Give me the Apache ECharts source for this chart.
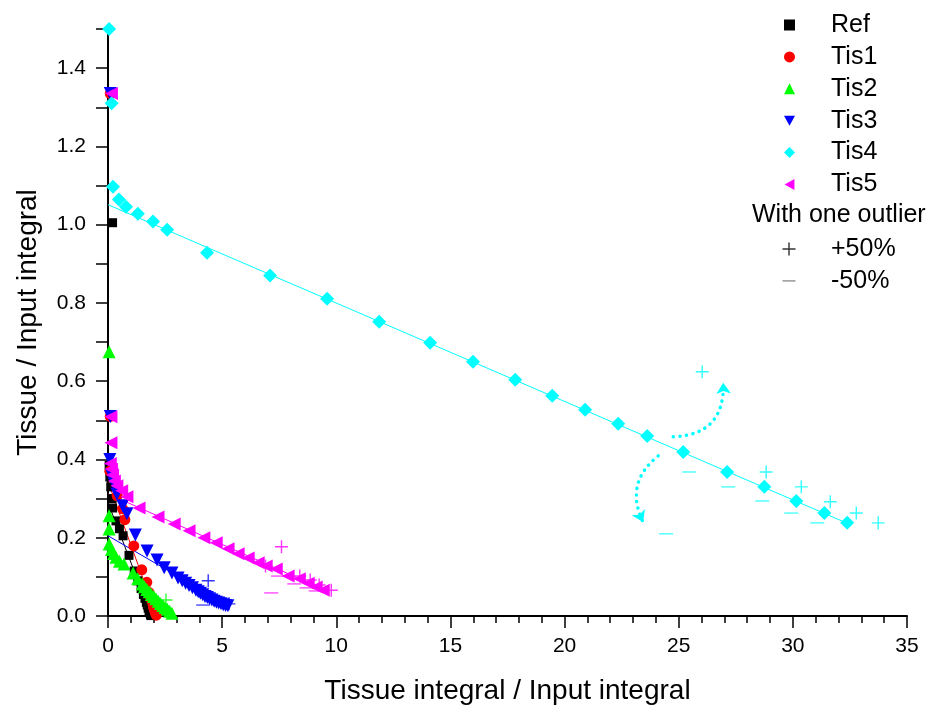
<!DOCTYPE html>
<html><head><meta charset="utf-8">
<script src="https://cdn.jsdelivr.net/npm/echarts/dist/echarts.min.js"></script>
<style>html,body{margin:0;padding:0;background:#fff}#c{width:940px;height:713px}</style>
</head><body><div id="c"></div>
<script>
// ---------------- DATA ----------------
const seriesNames = ['Ref','Tis1','Tis2','Tis3','Tis4','Tis5'];
const xTicks = [0,5,10,15,20,25,30,35];
const yTicks = [0.0,0.2,0.4,0.6,0.8,1.0,1.2,1.4];

const refPts = [[0.2,1.005],[0.05,0.385],[0.08,0.355],[0.12,0.33],[0.18,0.30],[0.2,0.276],[0.35,0.243],[0.5,0.223],[0.66,0.205],[0.92,0.155],[1.15,0.115],[1.3,0.09],[1.45,0.07],[1.55,0.055],[1.62,0.045],[1.68,0.035],[1.72,0.028],[1.76,0.02],[1.8,0.014],[1.83,0.008],[1.86,0.004],[1.88,0.001]];
const tis1Pts = [[0.1,1.335],[0.1,0.51],[0.08,0.37],[0.4,0.307],[0.64,0.274],[0.74,0.246],[1.13,0.179],[1.48,0.118],[1.7,0.086],[1.8,0.06],[1.85,0.05],[1.9,0.042],[1.95,0.035],[1.98,0.028],[2.0,0.022],[2.03,0.017],[2.05,0.012],[2.08,0.008],[2.1,0.005],[2.12,0.002]];
const tis2Pts = [[0.05,0.675],[0.05,0.256],[0.05,0.222],[0.05,0.184],[0.15,0.17],[0.25,0.16],[0.35,0.15],[0.5,0.14],[0.7,0.133],[1.1,0.11],[1.3,0.095],[1.5,0.082],[1.6,0.075],[1.7,0.068],[1.8,0.062],[1.9,0.055],[2.0,0.05],[2.1,0.044],[2.2,0.038],[2.3,0.032],[2.4,0.027],[2.5,0.022],[2.6,0.017],[2.7,0.012],[2.8,0.007]];
const tis3Pts = [[0.1,1.335],[0.1,0.51],[0.08,0.40],[0.15,0.36],[0.25,0.34],[0.39,0.312],[0.64,0.282],[0.83,0.261],[1.2,0.207],[1.71,0.166],[2.15,0.143],[2.46,0.123],[2.8,0.11],[3.07,0.097],[3.25,0.09],[3.4,0.084],[3.55,0.078],[3.7,0.072],[3.85,0.066],[3.95,0.062],[4.05,0.058],[4.15,0.054],[4.25,0.05],[4.35,0.047],[4.45,0.044],[4.55,0.041],[4.65,0.038],[4.75,0.035],[4.85,0.033],[4.95,0.031],[5.05,0.029],[5.15,0.027],[5.25,0.026]];
const tis4Pts = [[0.05,1.5],[0.16,1.31],[0.22,1.097],[0.48,1.064],[0.79,1.046],[1.31,1.028],[1.97,1.008],[2.59,0.987],[4.34,0.928],[7.10,0.870],[9.6,0.811],[11.88,0.752],[14.11,0.698],[15.99,0.650],[17.84,0.604],[19.46,0.563],[20.9,0.527],[22.35,0.491],[23.62,0.460],[25.2,0.419],[27.12,0.368],[28.75,0.330],[30.15,0.294],[31.38,0.263],[32.38,0.238]];
const tis5Pts = [[0.15,1.335],[0.13,0.509],[0.13,0.443],[0.1,0.39],[0.15,0.375],[0.2,0.36],[0.28,0.345],[0.39,0.333],[0.6,0.32],[0.83,0.305],[1.36,0.276],[2.19,0.253],[2.9,0.235],[3.55,0.218],[4.2,0.2],[4.74,0.187],[5.26,0.172],[5.7,0.159],[6.14,0.148],[6.58,0.136],[6.93,0.128],[7.37,0.12],[7.89,0.102],[8.38,0.095],[8.77,0.084],[9.12,0.074],[9.43,0.066]];

// linear fits: [start, end]
const refFit  = [[0,0.29],[1.9,0]];
const tis1Fit = [[0,0.343],[2.13,0]];
const tis2Fit = [[0,0.18],[2.85,0]];
const tis3Fit = [[0,0.205],[5.3,0.026]];
const tis4Fit = [[0,1.051],[32.5,0.234]];
const tis5Fit = [[0,0.312],[9.6,0.064]];

// "With one outlier" points
const tis2Plus  = [[2.54,0.041]];
const tis3Plus  = [[4.39,0.09],[5.3,0.031]];
const tis4Plus  = [[26.03,0.624],[28.83,0.368],[30.37,0.330],[31.64,0.292],[32.78,0.263],[33.74,0.238]];
const tis5Plus  = [[6.9,0.128],[7.6,0.177],[8.4,0.102],[8.86,0.092],[9.25,0.079],[9.78,0.066]];
const tis3Minus = [[4.17,0.028]];
const tis4Minus = [[24.45,0.210],[25.46,0.368],[27.17,0.330],[28.66,0.294],[29.93,0.263],[31.07,0.238]];
const tis5Minus = [[7.15,0.059],[7.45,0.102],[8.16,0.082],[8.7,0.072],[9.1,0.064]];

// annotation arrows (data coords)
const arrowUp   = [[24.76,0.458],[26.95,0.596]];
const arrowDown = [[24.1,0.409],[23.44,0.240]];

// ---------------- STYLE ----------------
const FONT = "'Liberation Sans', Arial, sans-serif";
const COLORS = {Ref:'#000000',Tis1:'#ff0000',Tis2:'#00ff00',Tis3:'#0000ff',Tis4:'#00ffff',Tis5:'#ff00ff'};
const SYMBOLS = {
  Ref:'rect', Tis1:'circle', Tis2:'triangle',
  Tis3:'path://M0,0L10,0L5,9Z', Tis4:'diamond', Tis5:'path://M9,0L9,10L0,5Z'
};
const SIZES = {Ref:9, Tis1:11, Tis2:13, Tis3:13, Tis4:14, Tis5:13};
const PLUS = 'path://M4.45,0H5.55V4.45H10V5.55H5.55V10H4.45V5.55H0V4.45H4.45Z';
const MINUS = 'path://M0,0H10V1.1H0Z';

const pts = {Ref:refPts, Tis1:tis1Pts, Tis2:tis2Pts, Tis3:tis3Pts, Tis4:tis4Pts, Tis5:tis5Pts};
const fits = {Ref:refFit, Tis1:tis1Fit, Tis2:tis2Fit, Tis3:tis3Fit, Tis4:tis4Fit, Tis5:tis5Fit};
const plusSets = {Tis2:tis2Plus, Tis3:tis3Plus, Tis4:tis4Plus, Tis5:tis5Plus};
const minusSets = {Tis3:tis3Minus, Tis4:tis4Minus, Tis5:tis5Minus};

const series = [];
seriesNames.forEach(n => {
  series.push({
    name: n + ' fit', type: 'line', data: fits[n], symbol: 'none', silent: true, z: 1,
    lineStyle: {color: COLORS[n], width: 1}
  });
});
series.push({
  name: 'arrows', type: 'lines', coordinateSystem: 'cartesian2d', silent: true, z: 2,
  symbol: ['none', 'arrow'], symbolSize: 11,
  lineStyle: {color: COLORS.Tis4, width: 3.5, type: [0.1, 6.5], cap: 'round', opacity: 1},
  data: [
    {coords: arrowUp, lineStyle: {curveness: -0.5}},
    {coords: arrowDown, lineStyle: {curveness: -0.4}}
  ]
});

seriesNames.forEach(n => {
  series.push({
    name: n, type: 'scatter', data: pts[n], symbol: SYMBOLS[n], symbolSize: SIZES[n], z: 3,
    itemStyle: {color: COLORS[n], opacity: 1}, clip: false
  });
});
const plusData = [], minusData = [];
Object.keys(plusSets).forEach(k => plusSets[k].forEach(p => plusData.push({value: p, itemStyle: {color: COLORS[k]}})));
Object.keys(minusSets).forEach(k => minusSets[k].forEach(p => minusData.push({value: p, itemStyle: {color: COLORS[k], opacity: 0.65}})));
series.push({name:'+50%', type:'scatter', data: plusData, symbol: PLUS, symbolSize: 13, z: 4, itemStyle:{color:'#000'}});
series.push({name:'-50%', type:'scatter', data: minusData, symbol: MINUS, symbolSize: 14, symbolKeepAspect: true, z: 4, itemStyle:{color:'#777'}});

const legendText = {fontSize: 25, color: '#000', fontFamily: FONT, lineHeight: 26};
const option = {
  animation: false,
  backgroundColor: '#fff',
  grid: {left: 108, right: 33, top: 29, bottom: 97},
  legend: [
    {
      data: seriesNames, orient: 'vertical', left: 779, top: 7,
      itemWidth: 11, itemHeight: 11, itemGap: 5.9, selectedMode: false,
      textStyle: Object.assign({padding: [0,0,0,31]}, legendText)
    },
    {
      data: [{name:'+50%', icon: PLUS, itemStyle:{color:'#000'}}, {name:'-50%', icon: MINUS, itemStyle:{color:'#777'}}],
      orient: 'vertical', left: 777.5, top: 231,
      itemWidth: 13, itemHeight: 13, itemGap: 5.9, selectedMode: false,
      textStyle: Object.assign({padding: [0,0,0,30.5]}, legendText)
    }
  ],
  graphic: [{
    type: 'text', left: 752, top: 203,
    style: {text: 'With one outlier', fontSize: 25, fontFamily: FONT, fill: '#000'}
  }],
  xAxis: {
    type: 'value', min: xTicks[0], max: xTicks[xTicks.length-1], interval: 5,
    name: 'Tissue integral / Input integral', nameLocation: 'middle', nameGap: 61,
    nameTextStyle: {fontSize: 28, color: '#000', fontFamily: FONT},
    axisLine: {lineStyle: {color: '#000', width: 2}},
    axisTick: {show: true, inside: false, length: 12, lineStyle: {color: '#000', width: 1.5}},
    minorTick: {show: true, splitNumber: 5, length: 7, lineStyle: {color: '#000', width: 1.5}},
    splitLine: {show: false}, minorSplitLine: {show: false},
    axisLabel: {fontSize: 21, color: '#000', fontFamily: FONT, margin: 20,
      formatter: v => xTicks.includes(v) ? String(v) : ''}
  },
  yAxis: {
    type: 'value', min: 0, max: 1.5, interval: 0.1,
    name: 'Tissue / Input integral', nameLocation: 'middle', nameGap: 66,
    nameTextStyle: {fontSize: 28, color: '#000', fontFamily: FONT},
    axisLine: {show: true, lineStyle: {color: '#000', width: 2}},
    axisTick: {show: true, inside: false, length: 12, lineStyle: {color: '#000', width: 1.5}},
    splitLine: {show: false},
    axisLabel: {fontSize: 21, color: '#000', fontFamily: FONT, margin: 22, showMaxLabel: true,
      formatter: v => {
        const k = Math.round(v * 10);
        const hit = yTicks.find(t => Math.round(t * 10) === k);
        return hit !== undefined ? hit.toFixed(1) : '';
      }}
  },
  series: series
};
const chart = echarts.init(document.getElementById('c'), null, {renderer: 'canvas'});
chart.setOption(option);
</script>
</body></html>
